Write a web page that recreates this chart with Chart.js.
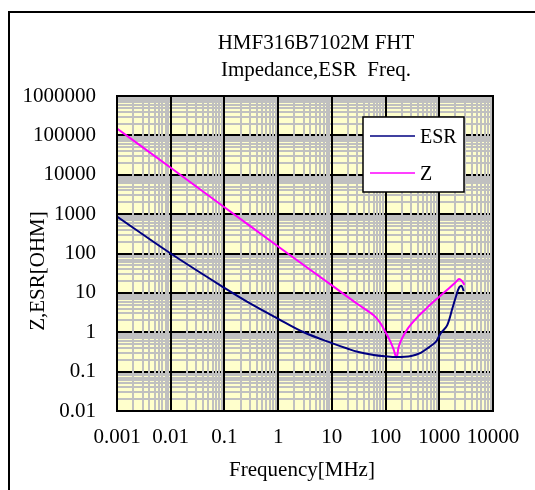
<!DOCTYPE html>
<html>
<head>
<meta charset="utf-8">
<script src="https://cdn.jsdelivr.net/npm/chart.js@4.4.1/dist/chart.umd.min.js"></script>
<style>
    html, body { margin: 0; padding: 0; background: #fff; }
    canvas { display: block; }
</style>
</head>
<body>
<canvas id="impedance-chart" width="535" height="490"></canvas>
<script>
// values (frequency in MHz, ohms)
var esrFreq = [0.001, 0.01, 0.1, 0.3, 1, 3, 10, 20, 30, 60, 100, 160, 300, 450, 650, 870, 1000, 1100, 1400, 1750, 2050, 2330, 2600, 2850];
var esrValues = [870, 100, 13.4, 5.4, 2.2, 1.0, 0.53, 0.38, 0.32, 0.265, 0.245, 0.235, 0.25, 0.3, 0.42, 0.58, 0.82, 1.0, 1.5, 4.0, 8.2, 13.5, 15, 11];

var zFreq = [0.001, 0.01, 0.1, 1, 10, 30, 60, 80, 100, 120, 140, 160, 175, 200, 250, 300, 400, 550, 700, 1000, 1500, 2000, 2330, 2600, 2930];
var zValues = [150000, 15000, 1500, 150, 15.5, 5.2, 2.7, 1.7, 1.0, 0.62, 0.38, 0.23, 0.42, 0.68, 1.15, 1.6, 2.5, 3.8, 5.2, 8.0, 13, 18.5, 22.4, 20.5, 16];

var xTicks = [0.001, 0.01, 0.1, 1, 10, 100, 1000, 10000];
var xTickLabels = ['0.001', '0.01', '0.1', '1', '10', '100', '1000', '10000'];
var yTicks = [0.01, 0.1, 1, 10, 100, 1000, 10000, 100000, 1000000];
var yTickLabels = ['0.01', '0.1', '1', '10', '100', '1000', '10000', '100000', '1000000'];

var seriesNames = ['ESR', 'Z'];
var seriesColors = ['#000080', '#FF00FF'];

var FONT = "'Liberation Serif', 'Times New Roman', serif";

function toPoints(xs, ys) {
    return xs.map(function (x, i) { return { x: x, y: ys[i] }; });
}

// plot background + log grid, drawn in the order the original uses
var logGrid = {
    id: 'logGrid',
    beforeDatasetsDraw: function (chart) {
        var ctx = chart.ctx, a = chart.chartArea;
        var xs = chart.scales.x, ys = chart.scales.y;
        var i, k, p;
        ctx.save();
        ctx.fillStyle = '#FFFFCC';
        ctx.fillRect(a.left, a.top, a.right - a.left, a.bottom - a.top);
        ctx.lineWidth = 2;

        ctx.strokeStyle = '#C0C0C0';
        ctx.beginPath();
        for (i = 0; i < yTicks.length - 1; i++) {
            for (k = 2; k <= 9; k++) {
                p = Math.round(ys.getPixelForValue(yTicks[i] * k));
                ctx.moveTo(a.left, p); ctx.lineTo(a.right, p);
            }
        }
        ctx.stroke();

        ctx.strokeStyle = '#000';
        ctx.beginPath();
        for (i = 1; i < yTicks.length - 1; i++) {
            p = Math.round(ys.getPixelForValue(yTicks[i]));
            ctx.moveTo(a.left, p); ctx.lineTo(a.right, p);
        }
        ctx.stroke();

        ctx.strokeStyle = '#C0C0C0';
        ctx.beginPath();
        for (i = 0; i < xTicks.length - 1; i++) {
            for (k = 2; k <= 9; k++) {
                p = Math.round(xs.getPixelForValue(xTicks[i] * k));
                ctx.moveTo(p, a.top); ctx.lineTo(p, a.bottom);
            }
        }
        ctx.stroke();

        ctx.strokeStyle = '#000';
        ctx.beginPath();
        for (i = 1; i < xTicks.length - 1; i++) {
            p = Math.round(xs.getPixelForValue(xTicks[i]));
            ctx.moveTo(p, a.top); ctx.lineTo(p, a.bottom);
        }
        ctx.stroke();
        ctx.restore();
    },
    afterDatasetsDraw: function (chart) {
        var ctx = chart.ctx, a = chart.chartArea;
        ctx.save();
        ctx.lineWidth = 2;
        ctx.strokeStyle = '#000';
        ctx.strokeRect(a.left, a.top, a.right - a.left, a.bottom - a.top);

        // legend box
        ctx.fillStyle = '#fff';
        ctx.fillRect(363, 117, 101, 75);
        ctx.lineWidth = 1.5;
        ctx.strokeRect(363, 117, 101, 75);
        ctx.font = '20px ' + FONT;
        ctx.textBaseline = 'alphabetic';
        ctx.textAlign = 'left';
        for (var i = 0; i < seriesNames.length; i++) {
            var y = 136 + i * 37;
            ctx.strokeStyle = seriesColors[i];
            ctx.lineWidth = 1.5;
            ctx.beginPath();
            ctx.moveTo(370, y); ctx.lineTo(415, y);
            ctx.stroke();
            ctx.fillStyle = '#000';
            ctx.fillText(seriesNames[i], 420, y + 7);
        }

        // titles
        ctx.textAlign = 'center';
        ctx.font = '21px ' + FONT;
        ctx.fillText('HMF316B7102M FHT', 316, 49);
        ctx.fillText('Impedance,ESR  Freq.', 316, 76);
        ctx.fillText('Frequency[MHz]', 302, 476);
        ctx.save();
        ctx.translate(44, 271);
        ctx.rotate(-Math.PI / 2);
        ctx.fillText('Z,ESR[OHM]', 0, 0);
        ctx.restore();

        // outer frame (runs off the picture on the right and bottom)
        ctx.strokeStyle = '#000';
        ctx.lineWidth = 2;
        ctx.strokeRect(9, 12, 600, 600);
        ctx.restore();
    }
};

var ctx = document.getElementById('impedance-chart').getContext('2d');

var impedanceChart = new Chart(ctx, {
    type: 'scatter',
    data: {
        datasets: [{
            label: seriesNames[0],
            data: toPoints(esrFreq, esrValues),
            borderColor: seriesColors[0],
            borderWidth: 2,
            showLine: true,
            pointRadius: 0,
            tension: 0.35
        }, {
            label: seriesNames[1],
            data: toPoints(zFreq, zValues),
            borderColor: seriesColors[1],
            borderWidth: 2,
            showLine: true,
            pointRadius: 0,
            tension: 0.35
        }]
    },
    options: {
        responsive: false,
        animation: false,
        devicePixelRatio: 1,
        layout: { padding: { top: 96, right: 42, left: 0, bottom: 0 } },
        plugins: {
            legend: { display: false },
            tooltip: { enabled: false }
        },
        scales: {
            x: {
                type: 'logarithmic',
                min: 0.001,
                max: 10000,
                grid: { display: false, drawTicks: false },
                border: { display: false },
                afterBuildTicks: function (scale) {
                    scale.ticks = xTicks.map(function (v) { return { value: v }; });
                },
                afterFit: function (scale) { scale.height = 79; },
                ticks: {
                    autoSkip: false,
                    maxRotation: 0,
                    minRotation: 0,
                    padding: 14,
                    color: '#000',
                    font: { family: FONT, size: 21 },
                    callback: function (value, index) { return xTickLabels[index]; }
                }
            },
            y: {
                type: 'logarithmic',
                min: 0.01,
                max: 1000000,
                grid: { display: false, drawTicks: false },
                border: { display: false },
                afterBuildTicks: function (scale) {
                    scale.ticks = yTicks.map(function (v) { return { value: v }; });
                },
                afterFit: function (scale) { scale.width = 117; },
                ticks: {
                    autoSkip: false,
                    padding: 21,
                    color: '#000',
                    font: { family: FONT, size: 21 },
                    callback: function (value, index) { return yTickLabels[index]; }
                }
            }
        }
    },
    plugins: [logGrid]
});
</script>
</body>
</html>
